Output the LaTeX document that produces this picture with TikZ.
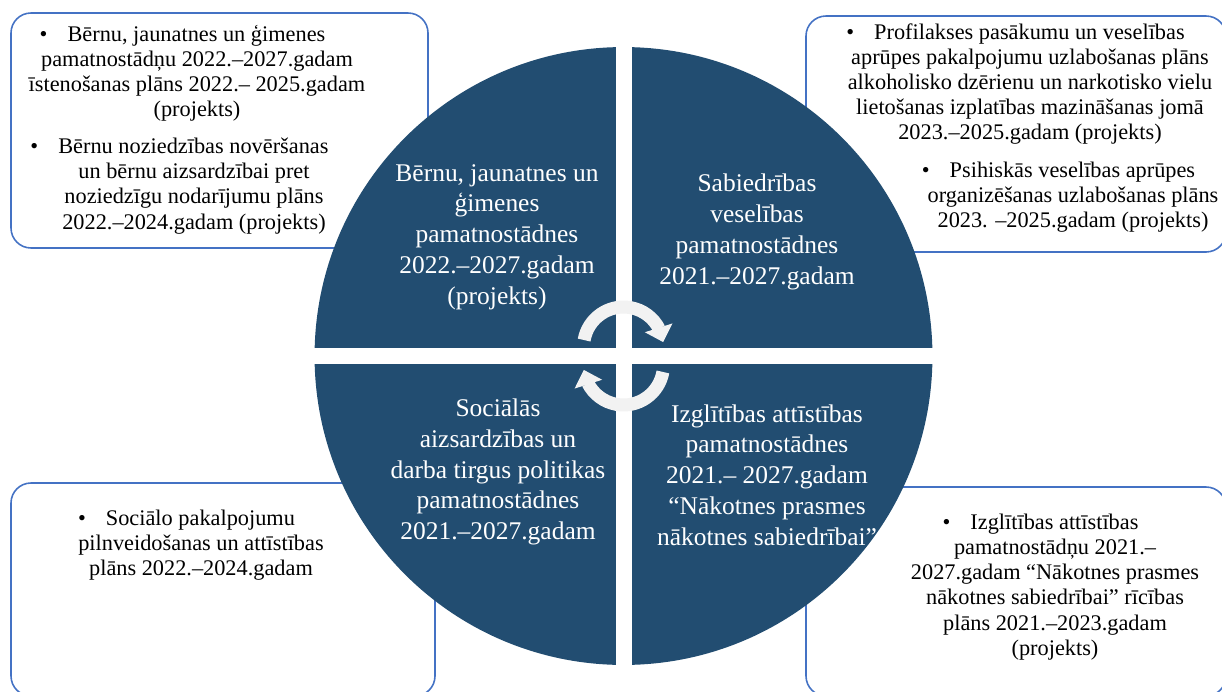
\documentclass[tikz,border=0pt]{standalone}
\usepackage{fontspec}
\setmainfont{Liberation Serif}
\usepackage{tikz}
\usetikzlibrary{arrows.meta,bending}
\definecolor{quadblue}{HTML}{224D71}
\definecolor{boxblue}{HTML}{4472C4}
\definecolor{arrowgray}{HTML}{F2F2F2}
\newcommand{\planitem}[1]{•\hspace{0.9em}#1\hspace*{1.3em}}

\begin{document}
\begin{tikzpicture}[x=0.02cm,y=0.02cm,
	planbox/.style={draw=boxblue,line width=0.9pt,fill=white,rounded corners=0.4cm},
	plantext/.style={align=center,font=\fontsize{12.7}{14.3}\selectfont,inner sep=0pt},
	quadtext/.style={align=center,text=white,font=\fontsize{14.5}{17.5}\selectfont,inner sep=0pt},
	cyclearrow/.style={arrowgray,line width=0.26cm,-{Triangle[width=0.56cm,length=0.3cm]}}]
	\useasboundingbox (0,0) rectangle (1222,691);
	\draw[planbox] (11,678) rectangle (428,443);
	\draw[planbox] (806,675) rectangle (1226,439);
	\draw[planbox] (11,208) rectangle (435,-5);
	\draw[planbox] (806,204) rectangle (1226,-5);
	\fill[quadblue] (623.5,335) circle (6.18cm);
	\fill[white] (615.5,20) rectangle (631.5,650);
	\fill[white] (305,327) rectangle (940,343);
	\draw[cyclearrow] (623.5,344) ++(170:0.8cm) arc[start angle=170,end angle=7,radius=0.8cm];
	\draw[cyclearrow] (623.5,326) ++(-10:0.8cm) arc[start angle=-10,end angle=-173,radius=0.8cm];
	\node[quadtext] (family) at (497,454) {Bērnu, jaunatnes un\\ ģimenes\\ pamatnostādnes\\ 2022.–2027.gadam\\ (projekts)};
	\node[quadtext] (health) at (757,459) {Sabiedrības\\ veselības\\ pamatnostādnes\\ 2021.–2027.gadam};
	\node[quadtext] (social) at (498,219) {Sociālās\\ aizsardzības un\\ darba tirgus politikas\\ pamatnostādnes\\ 2021.–2027.gadam};
	\node[quadtext] (education) at (767,216) {Izglītības attīstības\\ pamatnostādnes\\ 2021.– 2027.gadam\\ “Nākotnes prasmes\\ nākotnes sabiedrībai”};
	\node[plantext] (tlplan1) at (197,618) {\planitem{Bērnu, jaunatnes un ģimenes}\\ pamatnostādņu 2022.–2027.gadam\\ īstenošanas plāns 2022.– 2025.gadam\\ (projekts)};
	\node[plantext] (tlplan2) at (194,505) {\planitem{Bērnu noziedzības novēršanas}\\ un bērnu aizsardzībai pret\\ noziedzīgu nodarījumu plāns\\ 2022.–2024.gadam (projekts)};
	\node[plantext] (trplan1) at (1030,607) {\planitem{Profilakses pasākumu un veselības}\\ aprūpes pakalpojumu uzlabošanas plāns\\ alkoholisko dzērienu un narkotisko vielu\\ lietošanas izplatības mazināšanas jomā\\ 2023.–2025.gadam (projekts)};
	\node[plantext] (trplan2) at (1073,494) {\planitem{Psihiskās veselības aprūpes}\\ organizēšanas uzlabošanas plāns\\ 2023. –2025.gadam (projekts)};
	\node[plantext] (blplan) at (201,146) {\planitem{Sociālo pakalpojumu}\\ pilnveidošanas un attīstības\\ plāns 2022.–2024.gadam};
	\node[plantext] (brplan) at (1055,104) {\planitem{Izglītības attīstības}\\ pamatnostādņu 2021.–\\ 2027.gadam “Nākotnes prasmes\\ nākotnes sabiedrībai” rīcības\\ plāns 2021.–2023.gadam\\ (projekts)};
\end{tikzpicture}
\end{document}
